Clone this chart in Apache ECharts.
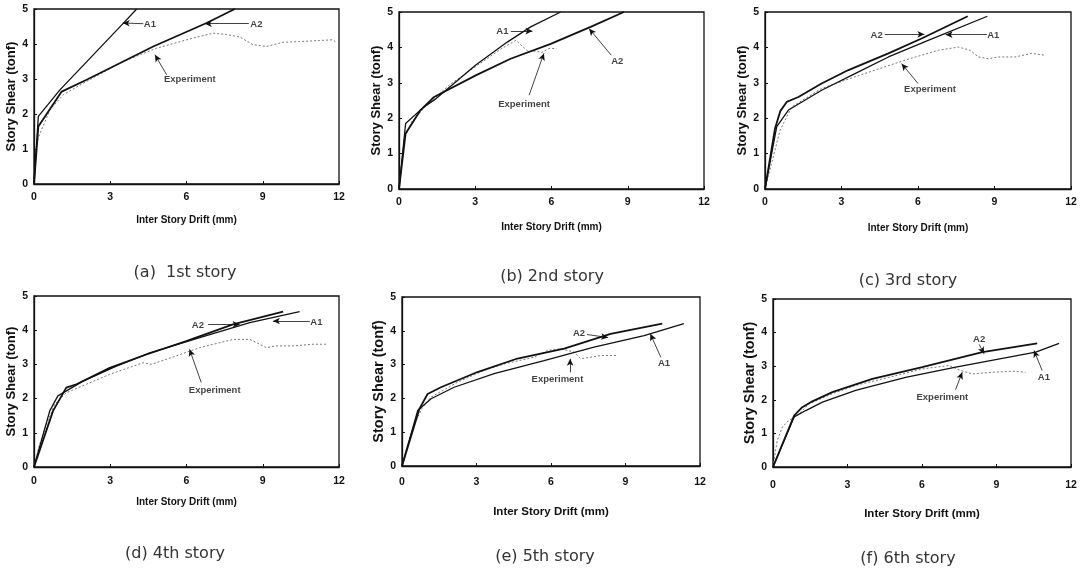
<!DOCTYPE html>
<html>
<head>
<meta charset="utf-8">
<script src="https://cdn.jsdelivr.net/npm/echarts@6/dist/echarts.min.js"></script>
<style>
  html, body { margin: 0; padding: 0; background: #fff; }
  #main { width: 1084px; height: 568px; }
</style>
</head>
<body>
<div id="main"></div>
<script>
// tick values
var xTicks = [0, 3, 6, 9, 12];
var yTicks = [0, 1, 2, 3, 4, 5];

var captions = ['(a)  1st story', '(b) 2nd story', '(c) 3rd story', '(d) 4th story', '(e) 5th story', '(f) 6th story'];

// 1st story
var s1A1 = [[0, 0], [0.17, 1.93], [1.02, 2.69], [3.51, 4.59], [4.04, 5.0]];
var s1A2 = [[0, 0], [0.17, 1.64], [1.09, 2.64], [2.07, 2.98], [3.51, 3.5], [4.69, 3.93], [6.79, 4.6], [7.9, 5.0]];
var s1Exp = [[0, 0], [0.1, 1.16], [0.24, 1.45], [0.63, 2.12], [1.15, 2.55], [1.94, 2.88], [3.51, 3.5], [4.82, 3.88], [6.26, 4.17], [7.05, 4.31], [7.58, 4.27], [8.1, 4.2], [8.62, 3.98], [9.15, 3.93], [9.8, 4.05], [10.46, 4.07], [11.24, 4.1], [11.77, 4.12], [11.9, 4.03]];

// 2nd story
var s2A1 = [[0, 0], [0.26, 1.85], [0.98, 2.32], [1.38, 2.51], [2.16, 2.98], [3.02, 3.5], [4.26, 4.15], [5.18, 4.58], [6.36, 5.0]];
var s2A2 = [[0, 0], [0.26, 1.57], [0.85, 2.23], [1.38, 2.6], [3.02, 3.21], [4.39, 3.68], [5.97, 4.1], [7.54, 4.58], [8.85, 5.0]];
var s2Exp = [[0, 0], [0.2, 1.4], [0.5, 1.9], [1.0, 2.3], [2.0, 2.95], [3.0, 3.45], [4.0, 3.95], [4.6, 4.2], [4.9, 4.0], [5.1, 3.88], [5.4, 3.9], [5.6, 3.85], [5.9, 3.97], [6.2, 3.97]];

// 3rd story
var s3A1 = [[0, 0], [0.46, 1.76], [0.92, 2.23], [2.22, 2.79], [3.53, 3.26], [4.84, 3.73], [6.4, 4.2], [8.72, 4.88]];
var s3A2 = [[0, 0], [0.39, 1.7], [0.6, 2.2], [0.85, 2.46], [1.31, 2.6], [2.22, 2.98], [3.27, 3.36], [4.84, 3.83], [6.14, 4.25], [7.95, 4.88]];
var s3Exp = [[0, 0], [0.59, 1.66], [1.05, 2.32], [2.22, 2.84], [3.53, 3.17], [5.49, 3.64], [6.8, 3.92], [7.58, 4.01], [8.04, 3.92], [8.37, 3.73], [8.76, 3.68], [9.15, 3.73], [9.8, 3.73], [10.46, 3.83], [10.98, 3.78]];

// 4th story
var s4A1 = [[0, 0], [0.62, 1.64], [0.94, 2.08], [1.93, 2.51], [3.24, 2.95], [4.55, 3.34], [6.52, 3.78], [8.49, 4.22], [10.45, 4.54]];
var s4A2 = [[0, 0], [0.75, 1.64], [1.27, 2.32], [1.67, 2.42], [2.98, 2.9], [4.42, 3.29], [5.99, 3.68], [7.83, 4.17], [9.8, 4.54]];
var s4Exp = [[0, 0], [0.22, 0.66], [0.49, 1.25], [0.81, 1.83], [1.27, 2.17], [2.06, 2.42], [2.98, 2.71], [4.29, 3.05], [4.62, 3.0], [5.6, 3.25], [6.52, 3.49], [7.83, 3.73], [8.49, 3.73], [8.75, 3.64], [9.14, 3.49], [9.53, 3.54], [10.19, 3.54], [10.98, 3.59], [11.5, 3.59]];

// 5th story
var s5A1 = [[0, 0], [0.63, 1.64], [1.17, 1.99], [2.1, 2.33], [3.71, 2.73], [5.72, 3.12], [7.73, 3.52], [9.75, 3.86], [11.35, 4.21]];
var s5A2 = [[0, 0], [0.7, 1.69], [1.03, 2.13], [1.57, 2.33], [3.04, 2.78], [4.65, 3.18], [6.53, 3.47], [8.4, 3.91], [10.48, 4.21]];
var s5Exp = [[0, 0], [0.23, 0.65], [0.5, 1.25], [0.83, 1.74], [1.17, 2.04], [2.24, 2.48], [3.31, 2.83], [4.12, 3.02], [5.32, 3.22], [5.86, 3.42], [6.39, 3.47], [6.93, 3.37], [7.2, 3.17], [8.0, 3.27], [8.67, 3.27]];

// 6th story
var s6A1 = [[0, 0], [0.85, 1.49], [1.32, 1.68], [1.99, 1.93], [3.33, 2.28], [5.34, 2.67], [7.36, 2.97], [10.58, 3.42], [11.52, 3.68]];
var s6A2 = [[0, 0], [0.85, 1.53], [1.18, 1.78], [1.52, 1.93], [2.39, 2.23], [4.0, 2.62], [6.01, 2.97], [8.43, 3.42], [10.64, 3.68]];
var s6Exp = [[0, 0], [0.17, 0.79], [0.38, 1.19], [0.64, 1.39], [0.98, 1.53], [1.45, 1.88], [2.39, 2.18], [3.33, 2.43], [4.67, 2.67], [6.01, 2.92], [7.09, 3.02], [7.56, 2.87], [8.03, 2.77], [8.83, 2.82], [9.64, 2.85], [10.17, 2.82]];

// callouts: text, label x/y, arrow tail x/y, arrow head x/y (data units)
var s1Notes = [['A1', 4.56, 4.55, 4.3, 4.58, 3.49, 4.6], ['A2', 8.75, 4.55, 8.45, 4.58, 6.72, 4.58], ['Experiment', 6.13, 3.0, 5.22, 3.12, 4.76, 3.69]];
var s2Notes = [['A1', 4.07, 4.46, 4.4, 4.46, 5.25, 4.46], ['A2', 8.59, 3.61, 8.35, 3.78, 7.48, 4.53], ['Experiment', 4.92, 2.39, 5.12, 2.65, 5.7, 3.83]];
var s3Notes = [['A2', 4.38, 4.34, 4.7, 4.37, 6.25, 4.37], ['A1', 8.95, 4.34, 8.7, 4.36, 7.08, 4.36], ['Experiment', 6.47, 2.81, 6.0, 2.98, 5.36, 3.54]];
var s4Notes = [['A2', 6.45, 4.14, 6.85, 4.17, 8.09, 4.17], ['A1', 11.11, 4.22, 10.85, 4.27, 9.4, 4.27], ['Experiment', 7.11, 2.24, 6.58, 2.47, 6.12, 3.44]];
var s5Notes = [['A2', 7.13, 3.91, 7.45, 3.89, 8.3, 3.8], ['A1', 10.55, 3.04, 10.42, 3.22, 10.0, 3.91], ['Experiment', 6.26, 2.56, 6.77, 2.77, 6.77, 3.17]];
var s6Notes = [['A2', 8.3, 3.8, 8.3, 3.65, 8.5, 3.37], ['A1', 10.91, 2.67, 10.84, 2.87, 10.51, 3.47], ['Experiment', 6.82, 2.08, 7.35, 2.3, 7.62, 2.82]];

var a1Sets = [s1A1, s2A1, s3A1, s4A1, s5A1, s6A1];
var a2Sets = [s1A2, s2A2, s3A2, s4A2, s5A2, s6A2];
var expSets = [s1Exp, s2Exp, s3Exp, s4Exp, s5Exp, s6Exp];
var noteSets = [s1Notes, s2Notes, s3Notes, s4Notes, s5Notes, s6Notes];

// plot boxes [left, top, width, height, xName size, yName size, xName gap, x label margin]
var boxes = [
  [34, 9, 305, 175, 10, 13, 31, 8],
  [399, 12, 305, 177, 10, 13, 33, 8],
  [765, 12, 306, 177, 10, 13, 34, 8],
  [34, 296, 305, 171, 10, 13, 30, 9],
  [402, 297, 298, 169, 11.5, 14.5, 40, 11],
  [773, 299, 298, 168, 11.5, 14.5, 41, 13]
];
var capPos = [[180, 268], [547, 272], [903, 276], [170, 549], [540, 552], [903, 554]];

var grids = [], xAxes = [], yAxes = [], series = [], titles = [];
var bold = 'Liberation Sans, Arial, sans-serif';

boxes.forEach(function (b, i) {
  grids.push({ left: b[0], top: b[1], width: b[2], height: b[3], show: true, borderColor: '#111', borderWidth: 1.3, containLabel: false });
  xAxes.push({
    gridIndex: i, type: 'value', min: 0, max: 12, interval: 3,
    name: 'Inter Story Drift (mm)', nameLocation: 'middle', nameGap: b[6],
    nameTextStyle: { fontFamily: bold, fontWeight: 'bold', fontSize: b[4], color: '#111' },
    axisLine: { lineStyle: { color: '#111', width: 1.3 } },
    axisTick: { show: true, inside: true, length: 3, lineStyle: { color: '#111' } },
    axisLabel: { fontFamily: bold, fontWeight: 'bold', fontSize: 10.5, color: '#111', margin: b[7] },
    splitLine: { show: false }
  });
  yAxes.push({
    gridIndex: i, type: 'value', min: 0, max: 5, interval: 1,
    name: 'Story Shear (tonf)', nameLocation: 'middle', nameGap: 16,
    nameTextStyle: { fontFamily: bold, fontWeight: 'bold', fontSize: b[5], color: '#111' },
    axisLine: { lineStyle: { color: '#111', width: 1.3 } },
    axisTick: { show: true, inside: true, length: 3, lineStyle: { color: '#111' } },
    axisLabel: { fontFamily: bold, fontWeight: 'bold', fontSize: 10.5, color: '#111', margin: 6 },
    splitLine: { show: false }
  });
  titles.push({
    text: captions[i], left: capPos[i][0], top: capPos[i][1], textAlign: 'center', textVerticalAlign: 'middle',
    textStyle: { fontFamily: 'DejaVu Sans, sans-serif', fontWeight: 'normal', fontSize: 16, color: '#333' }
  });

  series.push({
    name: 'Experiment', type: 'line', xAxisIndex: i, yAxisIndex: i, data: expSets[i],
    showSymbol: false, silent: true, animation: false,
    lineStyle: { color: '#777', width: 1, type: [2, 2] }
  });
  series.push({
    name: 'A1', type: 'line', xAxisIndex: i, yAxisIndex: i, data: a1Sets[i],
    showSymbol: false, silent: true, animation: false,
    lineStyle: { color: '#111', width: 1.3 }
  });
  series.push({
    name: 'A2', type: 'line', xAxisIndex: i, yAxisIndex: i, data: a2Sets[i],
    showSymbol: false, silent: true, animation: false,
    lineStyle: { color: '#111', width: 1.8 },
    markLine: {
      silent: true, animation: false, symbol: ['none', 'arrow'], symbolSize: [5, 7],
      label: { show: false },
      lineStyle: { color: '#111', width: 0.8, type: 'solid' },
      data: noteSets[i].map(function (n) {
        return [{ coord: [n[3], n[4]] }, { coord: [n[5], n[6]] }];
      })
    }
  });
  // callout texts
  series.push({
    type: 'scatter', xAxisIndex: i, yAxisIndex: i, symbolSize: 0, silent: true, animation: false,
    data: noteSets[i].map(function (n) { return { value: [n[1], n[2]], name: n[0] }; }),
    label: {
      show: true, position: 'inside', formatter: '{b}',
      fontFamily: bold, fontWeight: 'bold', fontSize: 9.5, color: '#111'
    }
  });
});

var myChart = echarts.init(document.getElementById('main'), null, { renderer: 'canvas' });
myChart.setOption({
  backgroundColor: '#fff',
  animation: false,
  title: titles,
  grid: grids,
  xAxis: xAxes,
  yAxis: yAxes,
  series: series
});
</script>
</body>
</html>
